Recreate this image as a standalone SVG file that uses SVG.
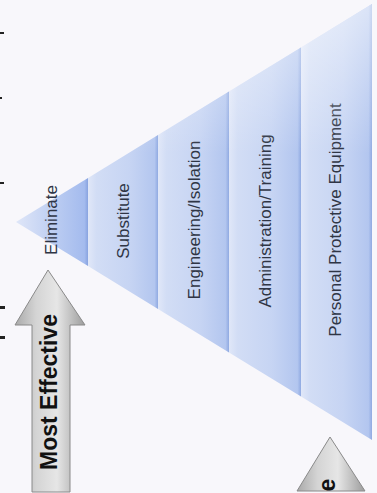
<svg xmlns="http://www.w3.org/2000/svg" width="377" height="493" viewBox="0 0 377 493">
  <defs>
    <linearGradient id="band" x1="0" y1="0" x2="1" y2="0">
      <stop offset="0" stop-color="#e0e7f8"/>
      <stop offset="0.12" stop-color="#d2ddf5"/>
      <stop offset="0.6" stop-color="#c6d4f3"/>
      <stop offset="0.95" stop-color="#b3c6ef"/>
      <stop offset="1" stop-color="#90aae2"/>
    </linearGradient>
    <linearGradient id="band1" x1="0" y1="0" x2="1" y2="0">
      <stop offset="0" stop-color="#dfe6f8"/>
      <stop offset="0.6" stop-color="#b8caf1"/>
      <stop offset="0.95" stop-color="#a4bbee"/>
      <stop offset="1" stop-color="#88a3e0"/>
    </linearGradient>
    <linearGradient id="glare" gradientUnits="userSpaceOnUse" x1="0" y1="0" x2="0" y2="440">
      <stop offset="0" stop-color="#ffffff" stop-opacity="0.55"/>
      <stop offset="0.35" stop-color="#ffffff" stop-opacity="0"/>
      <stop offset="1" stop-color="#ffffff" stop-opacity="0"/>
    </linearGradient>
    <linearGradient id="metal" x1="0" y1="0" x2="1" y2="0">
      <stop offset="0" stop-color="#a9a9a9"/>
      <stop offset="0.3" stop-color="#d4d4d4"/>
      <stop offset="0.6" stop-color="#e6e6e6"/>
      <stop offset="1" stop-color="#9c9c9c"/>
    </linearGradient>
  </defs>
  <style>
    .lbl { font-family: "Liberation Sans", Arial, sans-serif; font-size: 17px; fill: #2f3545; text-anchor: middle; }
    .big { font-family: "Liberation Sans", Arial, sans-serif; font-size: 23px; font-weight: bold; fill: #111111; text-anchor: middle; }
    .arrow { fill: url(#metal); stroke: #8a8a8a; stroke-width: 1; }
    .mark { fill: #222222; }
  </style>
  <rect width="377" height="493" fill="#f8f7fb"/>

  <g id="margin-marks">
    <rect class="mark" x="0" y="32" width="4" height="2"/>
    <rect class="mark" x="0" y="97" width="2" height="2"/>
    <rect class="mark" x="0" y="182" width="4" height="2"/>
    <rect class="mark" x="0" y="306" width="5" height="3"/>
    <rect class="mark" x="0" y="336" width="5" height="3"/>
  </g>

  <g id="band-eliminate">
    <polygon points="16,222 88,178 88,266" fill="url(#band1)"/>
    <text class="lbl" transform="translate(57,220) rotate(-90)" font-size="16.5">Eliminate</text>
  </g>
  <g id="band-substitute">
    <polygon points="88,178 158,135 158,309 88,266" fill="url(#band)"/>
    <text class="lbl" transform="translate(129,221) rotate(-90)">Substitute</text>
  </g>
  <g id="band-engineering">
    <polygon points="158,135 229,91.6 229,352.4 158,309" fill="url(#band)"/>
    <text class="lbl" transform="translate(200,220) rotate(-90)">Engineering/Isolation</text>
  </g>
  <g id="band-administration">
    <polygon points="229,91.6 301,47.6 301,396.4 229,352.4" fill="url(#band)"/>
    <text class="lbl" transform="translate(271,221) rotate(-90)">Administration/Training</text>
  </g>
  <g id="band-ppe">
    <polygon points="301,47.6 372,4 372,440 301,396.4" fill="url(#band)"/>
    <text class="lbl" transform="translate(341,220) rotate(-90)">Personal Protective Equipment</text>
  </g>
  <polygon id="glare-overlay" points="16,222 372,4 372,440" fill="url(#glare)"/>

  <g id="arrow-most">
    <polygon class="arrow" points="48,270 85,325 70,325 70,492 32,492 32,325 15,325"/>
    <text class="big" transform="translate(57,392) rotate(-90)">Most Effective</text>
  </g>

  <g id="arrow-least">
    <polygon class="arrow" points="330,437 365,491 297,491"/>
    <text class="big" transform="translate(335,485) rotate(-90)">e</text>
  </g>
</svg>
